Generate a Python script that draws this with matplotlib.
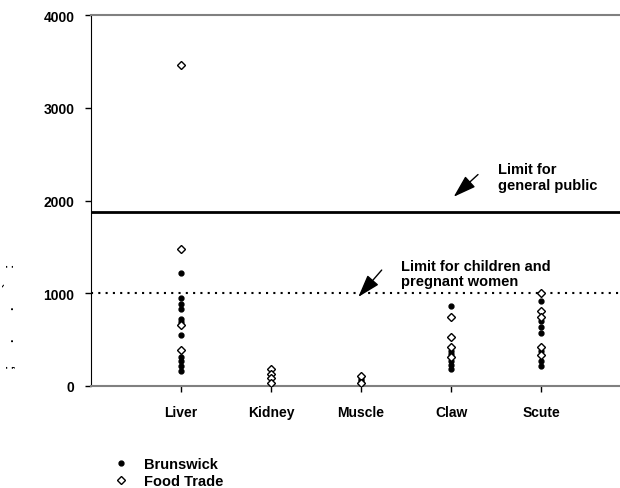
import numpy as np
import matplotlib.pyplot as plt
from matplotlib.lines import Line2D

plt.rcParams['font.family'] = ['Liberation Sans', 'DejaVu Sans']
plt.rcParams['font.weight'] = 'bold'

tissues = ['Liver', 'Kidney', 'Muscle', 'Claw', 'Scute']

brunswick = {
    'Liver': [1215, 945, 880, 830, 722, 693, 550, 309, 266, 219, 165],
    'Kidney': [],
    'Muscle': [80, 55],
    'Claw': [860, 375, 345, 270, 225, 185],
    'Scute': [915, 700, 640, 570, 380, 265, 215],
}
food_trade = {
    'Liver': [3460, 1480, 658, 391],
    'Kidney': [180, 130, 85, 35],
    'Muscle': [110, 30],
    'Claw': [740, 530, 420, 310],
    'Scute': [1000, 810, 740, 420, 330],
}

limit_public = 1880
limit_children = 1000

fig = plt.figure(figsize=(6.2, 4.89), dpi=100)
ax = fig.add_axes([91 / 620, 1 - 387 / 489, 540 / 620, 371 / 489])

for i, t in enumerate(tissues):
    x = i + 1
    yb = brunswick[t]
    yf = food_trade[t]
    ax.plot([x] * len(yb), yb, 'o', color='black', markersize=3.5, zorder=3)
    ax.plot([x] * len(yf), yf, 'D', markerfacecolor='white', markeredgecolor='black',
            markersize=4.4, markeredgewidth=1, zorder=4)

ax.axhline(limit_public, color='black', lw=2)
ax.axhline(limit_children, color='black', lw=1.5, ls=(0, (1, 2.5)))

arrow = dict(arrowstyle='-|>,head_width=0.45,head_length=1.4', color='black', lw=1,
             shrinkA=0, shrinkB=0)
ax.annotate('', xy=(4.03, 2040), xytext=(4.3, 2280), arrowprops=arrow)
ax.text(4.52, 2250, 'Limit for\ngeneral public', fontsize=10.5, fontweight='bold',
        va='center', ha='left', linespacing=1.15)
ax.annotate('', xy=(2.97, 960), xytext=(3.23, 1250), arrowprops=arrow)
ax.text(3.44, 1213, 'Limit for children and\npregnant women', fontsize=10.5,
        fontweight='bold', va='center', ha='left', linespacing=1.15)

ax.set_xlim(0, 6)
ax.set_ylim(0, 4000)
ax.set_xticks(range(1, len(tissues) + 1))
ax.set_xticklabels(tissues)
ax.set_yticks([0, 1000, 2000, 3000, 4000])
ax.tick_params(direction='out', length=4, labelsize=10, width=1)
for lab in ax.get_xticklabels() + ax.get_yticklabels():
    lab.set_fontweight('bold')
ax.tick_params(axis='x', pad=10)
ax.tick_params(axis='y', pad=8)
ax.spines['right'].set_visible(False)
ax.spines['top'].set_color('#808080')
ax.spines['top'].set_linewidth(1.5)
ax.spines['bottom'].set_color('#808080')
ax.spines['bottom'].set_linewidth(1.5)

# garbled rotated label fragments on the far left
for yy, ch in [(265, ':'), (285, '`'), (308, '.'), (340, '.'), (366, ';')]:
    fig.text(10 / 620, 1 - yy / 489, ch, fontsize=9, rotation=90, ha='center', va='center')

handles = [
    Line2D([], [], marker='o', color='black', ls='none', markersize=3.5),
    Line2D([], [], marker='D', markerfacecolor='white', markeredgecolor='black',
           ls='none', markersize=4.4),
]
fig.legend(handles, ['Brunswick', 'Food Trade'], loc='upper left',
           bbox_to_anchor=(105 / 620, 1 - 451 / 489), frameon=False,
           prop={'weight': 'bold', 'size': 10.5}, handlelength=1.2, handletextpad=1.0,
           labelspacing=0.2, borderpad=0)

fig.savefig('out.png', dpi=100)
